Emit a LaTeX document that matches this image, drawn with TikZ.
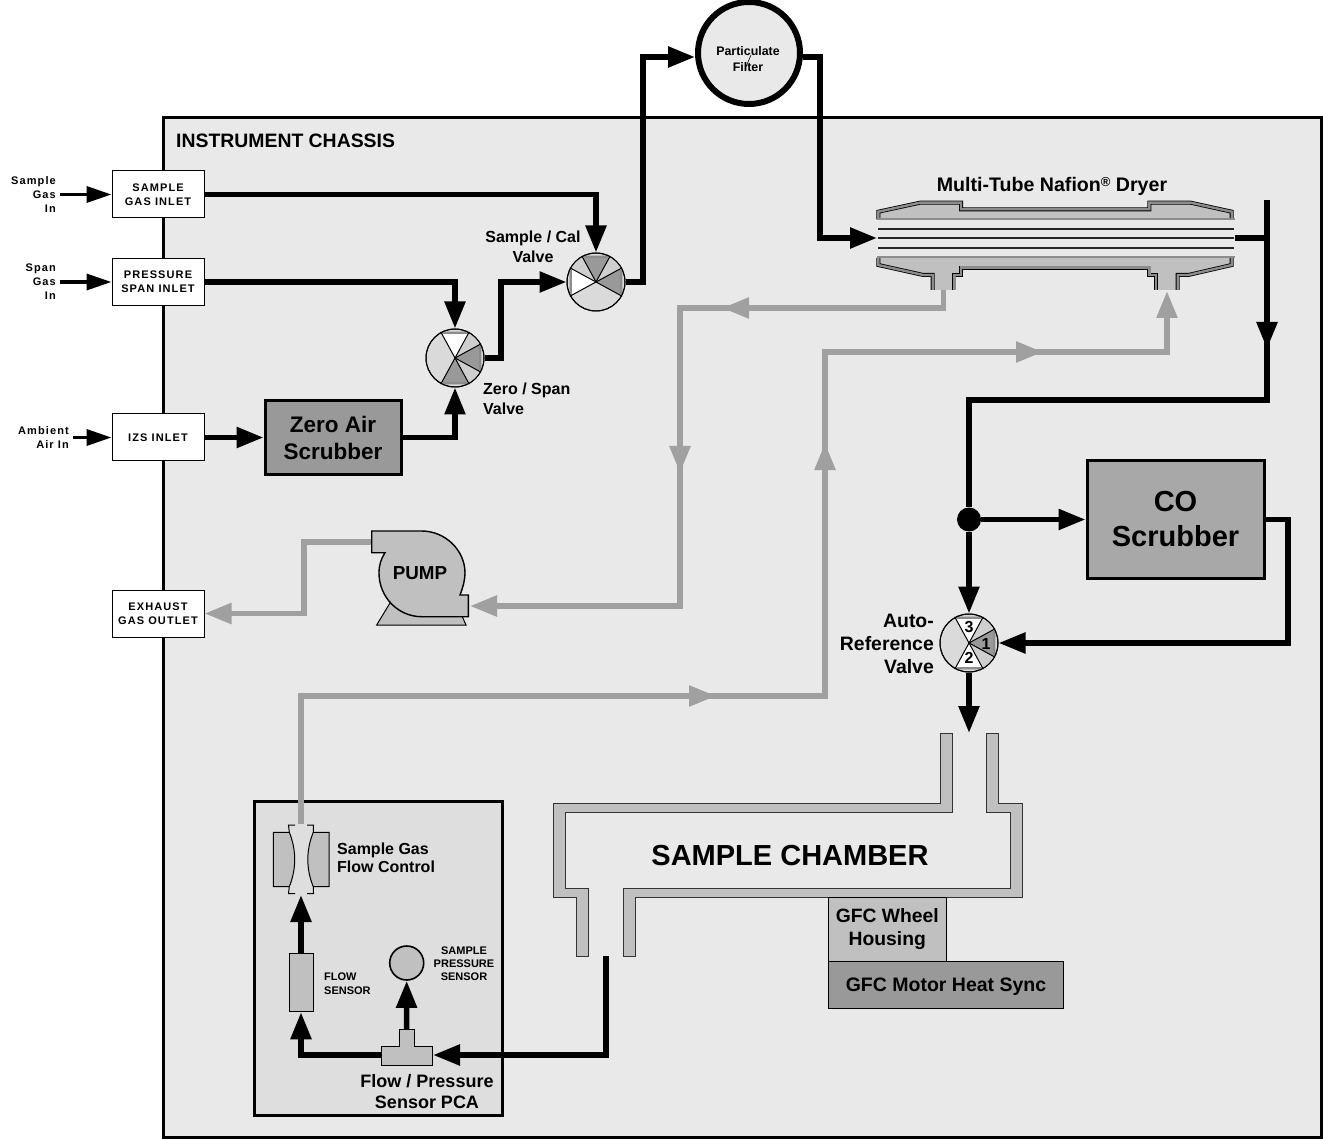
\documentclass[tikz,border=0pt]{standalone}
\usepackage{fontspec}
\setmainfont{Liberation Sans}
\newfontfamily\spacedfont[LetterSpace=10]{Liberation Sans}
\usetikzlibrary{arrows.meta}

\definecolor{chassisgray}{HTML}{E9E9E9}
\definecolor{pcagray}{HTML}{DEDEDE}
\definecolor{partgray}{HTML}{C0C0C0}
\definecolor{darkgray}{HTML}{999999}
\definecolor{gasgray}{HTML}{A0A0A0}
\definecolor{wallgray}{HTML}{8C8C8C}
\definecolor{valvegray}{HTML}{DADADA}
\definecolor{gapgray}{HTML}{CFCFCF}

\newcommand{\bfsize}[2]{\fontsize{#1}{#2}\selectfont\bfseries}
% one vane of a valve: centre, rotation, fill
\newcommand{\valvevane}[3]{%
  \begin{scope}[shift={(#1)},rotate=#2]
    \draw[line width=1pt,fill=#3] (0,0) -- (-14,-25.7) -- (14,-25.7) -- cycle;
    \draw[line width=1.6pt,wallgray] (-13,-24.8) -- (13,-24.8);
  \end{scope}}
% the wedge between two vanes: centre, rotation
\newcommand{\valvegap}[2]{%
  \begin{scope}[shift={(#1)},rotate=#2]
    \fill[gapgray] (0,0) -- (14.2,-24.6) -- (20.5,-20.5) -- (24.6,-14.2) -- cycle;
  \end{scope}}

\begin{document}
\begin{tikzpicture}[x=1pt,y=-1pt,
    pipe/.style={line width=5.5pt,draw=black},
    flow/.style={pipe,-{Triangle[length=27pt,width=20pt]}},
    gaspipe/.style={line width=5.5pt,draw=gasgray},
    gasflow/.style={gaspipe,-{Triangle[length=27pt,width=20pt]}},
    feed/.style={line width=3.5pt,draw=black,-{Triangle[length=25pt,width=16pt]}},
    inlet/.style={draw,line width=1pt,fill=white,minimum width=92pt,minimum height=47pt,inner sep=0pt,align=center,font=\spacedfont\bfsize{11}{13.7}},
    sidelabel/.style={anchor=east,align=right,inner sep=0pt,inner xsep=4pt,font=\spacedfont\bfsize{11}{14}},
    scrubber/.style={draw,line width=3pt,minimum width=0pt,inner sep=0pt,align=center},
    valve/.style={circle,draw,line width=1pt,fill=valvegray,minimum size=58pt,inner sep=0pt},
    part/.style={draw,line width=1pt,fill=partgray,inner sep=0pt},
    wall/.style={line width=.8pt,double=wallgray,double distance=2.4pt},
    tube/.style={line width=1.6pt,black!85},
    caption/.style={inner sep=0pt,align=center}]
    \useasboundingbox (0,0) rectangle (1323,1139);

    \draw[line width=3pt,fill=chassisgray] (163,118) rectangle (1321,1137);
    \node[caption,anchor=west,font=\bfsize{19.4}{22}] (chassis) at (176,141) {INSTRUMENT CHASSIS};

    % inlets
    \node[inlet] (inlsample) at (158,194.5) {SAMPLE\\GAS INLET};
    \node[inlet] (inlspan) at (158,282) {PRESSURE\\SPAN INLET};
    \node[inlet] (inlizs) at (158,437.5) {IZS INLET};
    \node[inlet] (exhaust) at (158,613.5) {EXHAUST\\GAS OUTLET};
    \node[sidelabel] (sampgas) at (60,194.5) {Sample\\Gas\\In};
    \node[sidelabel] (spangas) at (60,282) {Span\\Gas\\In};
    \node[sidelabel] (ambient) at (73,437.5) {Ambient\\Air In};
    \draw[feed] (sampgas.east) -- (inlsample.west);
    \draw[feed] (spangas.east) -- (inlspan.west);
    \draw[feed] (ambient.east) -- (inlizs.west);

    % valves
    \node[valve] (vsample) at (596,282) {};
    \node[valve] (vzero) at (455,358) {};
    \node[valve] (vref) at (969,643) {};
    \valvegap{vsample}{0}
    \valvegap{vsample}{90}
    \valvegap{vzero}{0}
    \valvegap{vzero}{-90}
    \valvegap{vref}{0}
    \valvegap{vref}{-90}
    \valvevane{vsample}{0}{darkgray}
    \valvevane{vsample}{90}{white}
    \valvevane{vsample}{270}{darkgray}
    \valvevane{vzero}{0}{white}
    \valvevane{vzero}{180}{darkgray}
    \valvevane{vzero}{270}{darkgray}
    \valvevane{vref}{0}{white}
    \valvevane{vref}{180}{white}
    \valvevane{vref}{270}{darkgray}
    \draw[line width=1pt] (vsample) circle (29);
    \draw[line width=1pt] (vzero) circle (29);
    \draw[line width=1pt] (vref) circle (29);
    \node[caption,font=\bfsize{16}{20}] (vsampletext) at (533,247) {Sample / Cal\\Valve};
    \node[caption,anchor=west,align=left,font=\bfsize{16}{20}] (vzerotext) at (483,399) {Zero / Span\\Valve};
    \node[caption,anchor=east,align=right,font=\bfsize{19.4}{23}] (vreftext) at (934,644) {Auto-\\Reference\\Valve};
    \node[caption,font=\bfsize{16}{16}] (port3) at (969,627) {3};
    \node[caption,font=\bfsize{16}{16}] (port2) at (969,658) {2};
    \node[caption,font=\bfsize{16}{16}] (port1) at (986,644) {1};

    \node[scrubber,fill=darkgray,minimum width=136pt,minimum height=73pt,font=\bfsize{22.5}{27}] (zeroscrub) at (333,437.5) {Zero Air\\Scrubber};
    \node[scrubber,fill=darkgray!85!white,minimum width=177pt,minimum height=117pt,font=\bfsize{29}{35}] (coscrub) at (1175.5,519.5) {CO\\Scrubber};

    % filter
    \node[circle,draw,line width=6pt,fill=chassisgray,minimum size=102pt,inner sep=0pt] (filter) at (749,53) {};
    \node[caption,font=\bfsize{12.4}{16}] (filtertext) at (748,59) {Particulate\\Filter};
    \draw[line width=.6pt] (745,69) -- (751,55);

    % dryer
    \fill[partgray] (878.3,219.3) -- (878.3,211.7) -- (920,202.7) -- (961,202.7) -- (961,209.3) -- (1149.3,209.3) -- (1149.3,202.7) -- (1190.7,202.7) -- (1231.7,211.7) -- (1231.7,219.3) -- cycle;
    \fill[partgray] (878.3,258) -- (878.3,265) -- (923.3,275) -- (932.7,275) -- (932.7,290) -- (954.3,290) -- (954.3,275) -- (961,275) -- (961,267.7) -- (1149.3,267.7) -- (1149.3,275) -- (1156,275) -- (1156,290) -- (1177.7,290) -- (1177.7,275) -- (1188.3,275) -- (1231.7,265) -- (1231.7,258) -- cycle;
    \draw[wall] (878.3,219.3) -- (878.3,211.7) -- (920,202.7) -- (961,202.7) -- (961,209.3) -- (1149.3,209.3) -- (1149.3,202.7) -- (1190.7,202.7) -- (1231.7,211.7) -- (1231.7,219.3);
    \draw[wall] (878.3,258) -- (878.3,265) -- (923.3,275) -- (932.7,275) -- (932.7,290);
    \draw[wall] (954.3,290) -- (954.3,275) -- (961,275) -- (961,267.7) -- (1149.3,267.7) -- (1149.3,275) -- (1156,275) -- (1156,290);
    \draw[wall] (1177.7,290) -- (1177.7,275) -- (1188.3,275) -- (1231.7,265) -- (1231.7,258);
    \draw[line width=2pt,wallgray] (877,219.5) -- (1235,219.5);
    \draw[line width=2pt,wallgray] (877,257.5) -- (1235,257.5);
    \draw[tube] (878,229) -- (1234,229);
    \draw[tube] (878,238) -- (1234,238);
    \draw[tube] (878,248) -- (1234,248);
    \node[caption,font=\bfsize{19.6}{20}] (dryertext) at (1052,186) {Multi-Tube Nafion\raisebox{5pt}{\fontsize{13}{13}\selectfont ®} Dryer};
    \coordinate (dryerin) at (877,238);
    \coordinate (dryerout) at (1235,238);
    \coordinate (dryerporta) at (943.5,290);
    \coordinate (dryerportb) at (1167,291);

    % pump
    \draw[line width=1pt,fill=partgray] (376.7,625) -- (390,603) -- (462,616) -- (466,625) -- cycle;
    \draw[line width=1.4pt,fill=partgray] (371.7,531) -- (421.7,531) .. controls (445,531) and (465,550) .. (465,573) .. controls (465,580) and (463,587) .. (460,595) -- (468.3,595) -- (468.3,616.7) -- (421.7,616.7) .. controls (398,616.7) and (379,597) .. (379,573) .. controls (379,565) and (381,559) .. (385,552.7) -- (371.7,552.7) -- cycle;
    \node[caption,font=\bfsize{18.8}{20}] (pumptext) at (420,573) {PUMP};
    \coordinate (pumpin) at (470,606);
    \coordinate (pumpout) at (371,542);

    % chamber
    \draw[line width=.9pt,black!80,fill=partgray] (940,733) -- (940,803.3) -- (553.5,803.3) -- (553.5,897.3) -- (576.5,897.3) -- (576.5,956) -- (588.7,956) -- (588.7,888.3) -- (565.4,888.3) -- (565.4,812.7) -- (952,812.7) -- (952,733) -- cycle;
    \draw[line width=.9pt,black!80,fill=partgray] (986.6,733) -- (986.6,812.7) -- (1010.6,812.7) -- (1010.6,888.3) -- (623.5,888.3) -- (623.5,956) -- (635.7,956) -- (635.7,897.3) -- (1022.7,897.3) -- (1022.7,803.3) -- (998.8,803.3) -- (998.8,733) -- cycle;
    \node[caption,font=\bfsize{29}{32}] (chambertext) at (790,856) {SAMPLE CHAMBER};
    \node[part,line width=.9pt,minimum width=117.3pt,minimum height=64pt,align=center,font=\bfsize{19.3}{23}] (wheel) at (887.3,929) {GFC Wheel\\Housing};
    \node[part,line width=.9pt,fill=darkgray,minimum width=234.6pt,minimum height=47pt,text height=14pt,text depth=0pt,font=\bfsize{19.5}{22}] (motor) at (946,984.5) {GFC Motor Heat Sync};
    \coordinate (chamberin) at (969,733);
    \coordinate (chamberout) at (606,956);

    % flow / pressure sensor board
    \node[draw,line width=3.5pt,fill=pcagray,minimum width=248pt,minimum height=314pt,inner sep=0pt] (pca) at (378.5,958.5) {};
    \draw[line width=1pt,fill=partgray] (273.3,832.3) -- (289.3,832.3) .. controls (296.5,850) and (296.5,869) .. (289.3,886.7) -- (273.3,886.7) -- cycle;
    \draw[line width=1pt,fill=partgray] (329,832.3) -- (313.3,832.3) .. controls (306,850) and (306,869) .. (313.3,886.7) -- (329,886.7) -- cycle;
    \draw[line width=1pt] (295,825) -- (288.5,825) -- (289.3,832.3);
    \draw[line width=1pt] (307,825) -- (313.5,825) -- (313.3,832.3);
    \draw[line width=1pt] (295,893.5) -- (288.5,893.5) -- (289.3,886.7);
    \draw[line width=1pt] (307,893.5) -- (313.5,893.5) -- (313.3,886.7);
    \coordinate (flowtop) at (301,824);
    \coordinate (flowbot) at (301,895);
    \node[caption,anchor=west,align=left,font=\bfsize{16}{18}] (flowtext) at (337,858) {Sample Gas\\Flow Control};
    \node[part,minimum width=24pt,minimum height=58.7pt] (flowsens) at (301,982.4) {};
    \node[caption,anchor=west,align=left,font=\bfsize{11}{14}] (flowsenstext) at (324,984) {FLOW\\SENSOR};
    \node[part,circle,line width=1.6pt,minimum size=34pt] (pressens) at (406.7,963) {};
    \node[caption,font=\bfsize{11}{13}] (pressenstext) at (464,964) {SAMPLE\\PRESSURE\\SENSOR};
    \draw[line width=1pt,fill=partgray] (381,1046.7) -- (399,1046.7) -- (399,1029) -- (414,1029) -- (414,1046.7) -- (432.7,1046.7) -- (432.7,1065) -- (381,1065) -- cycle;
    \coordinate (teetop) at (406.5,1029);
    \coordinate (teewest) at (381,1055);
    \coordinate (teeeast) at (433,1055);
    \node[caption,font=\bfsize{18}{21}] (pcatext) at (427,1091.5) {Flow / Pressure\\Sensor PCA};

    % gas lines, black
    \draw[flow] (inlsample.east) -| (vsample.north);
    \draw[flow] (inlspan.east) -| (vzero.north);
    \draw[flow] (inlizs.east) -- (zeroscrub.west);
    \draw[flow] (zeroscrub.east) -| (vzero.south);
    \coordinate (zerobend) at (501,358);
    \draw[flow] (vzero.east) -- (zerobend) |- (vsample.west);
    \coordinate (calbend) at (643,282);
    \draw[flow] (vsample.east) -- (calbend) |- ([yshift=-4pt]filter.west);
    \coordinate (filterbend) at (820,57);
    \draw[flow] ([yshift=-4pt]filter.east) -- (filterbend) |- (dryerin);

    \coordinate (dryertee) at (1267,238);
    \coordinate (dryertop) at (1267,200);
    \coordinate (dryermid) at (1267,349);
    \coordinate (dryerbend) at (1267,400);
    \node[circle,fill=black,minimum size=24pt,inner sep=0pt] (tee) at (969,519.5) {};
    \draw[pipe] (dryerout) -- (dryertee);
    \draw[pipe] (dryertop) -- (dryerbend) -| (tee.north);
    \draw[flow] (dryertop) -- (dryermid);
    \draw[flow] (tee.east) -- (coscrub.west);
    \draw[flow] (tee.south) -- (vref.north);
    \coordinate (cobend) at (1288,519.5);
    \draw[flow] (coscrub.east) -- (cobend) |- (vref.east);
    \draw[flow] (vref.south) -- (chamberin);

    \draw[flow] (chamberout) |- (teeeast);
    \draw[flow] (teewest) -| (flowsens.south);
    \draw[flow] (flowsens.north) -- (flowbot);
    \draw[flow] (teetop) -- (pressens.south);

    % gas lines, grey
    \coordinate (retbenda) at (943.5,308);
    \coordinate (retmida) at (722,308);
    \coordinate (retbendb) at (680,308);
    \coordinate (retmidb) at (680,473);
    \coordinate (retbendc) at (680,606);
    \coordinate (retpump) at (560,606);
    \draw[gaspipe] (dryerporta) -- (retbenda) -- (retbendb) -- (retbendc) -- (retpump);
    \draw[gasflow] (retbenda) -- (retmida);
    \draw[gasflow] (retbendb) -- (retmidb);
    \draw[gasflow] (retpump) -- (pumpin);

    \coordinate (samplea) at (301,696);
    \coordinate (samplemida) at (716,696);
    \coordinate (sampleb) at (825,696);
    \coordinate (samplemidb) at (825,443);
    \coordinate (samplec) at (825,352);
    \coordinate (samplemidc) at (1043,352);
    \draw[gaspipe] (flowtop) -- (samplea) -- (sampleb) -- (samplec) -- (samplemidc);
    \draw[gasflow] (samplea) -- (samplemida);
    \draw[gasflow] (sampleb) -- (samplemidb);
    \draw[gasflow] (samplec) -- (samplemidc);
    \draw[gasflow] (samplemidc) -| (dryerportb);

    \coordinate (pumpbenda) at (304,542);
    \coordinate (pumpbendb) at (304,613.5);
    \draw[gasflow] (pumpout) -- (pumpbenda) -- (pumpbendb) -- (exhaust.east);
\end{tikzpicture}
\end{document}
